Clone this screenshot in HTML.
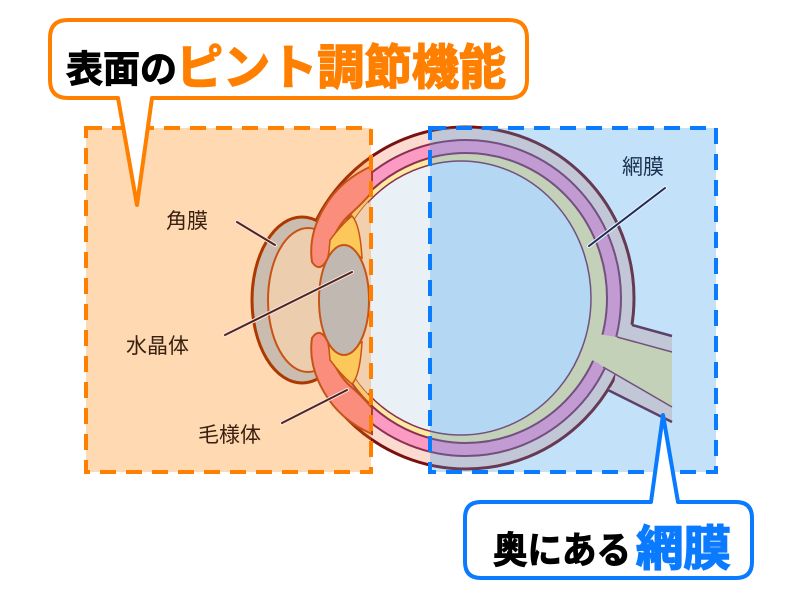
<!DOCTYPE html>
<html><head><meta charset="utf-8"><style>
html,body{margin:0;padding:0;background:#fff;}
svg{display:block;}
text{font-family:"Liberation Sans","Noto Sans CJK JP",sans-serif;}
</style></head><body>
<svg width="800" height="600" viewBox="0 0 800 600" xmlns="http://www.w3.org/2000/svg">
<defs>
<clipPath id="inner"><ellipse cx="461" cy="298" rx="130" ry="137"/></clipPath>
</defs>
<!-- eye layers -->
<ellipse cx="466" cy="298" rx="168" ry="171" fill="#fcdacf" stroke="#7a1010" stroke-width="3"/>
<ellipse cx="466" cy="298" rx="155" ry="158" fill="#fb9bc4" stroke="#8a3050" stroke-width="2"/>
<ellipse cx="466" cy="298" rx="141" ry="145" fill="#fde9a0" stroke="#8a3050" stroke-width="2"/>
<ellipse cx="461" cy="298" rx="130" ry="137" fill="#e9f1f6" stroke="#8a3050" stroke-width="1.5"/>
<!-- optic nerve sheath -->
<path d="M624,322 L632,325 L672,336 L672,422 L608,390 L614,384 Z" fill="#fcdacf"/>
<path d="M632,325 L672,336 M608,390 L672,422" stroke="#6a1a30" stroke-width="2.5" fill="none"/>
<!-- nerve green -->
<path d="M592,333 L617,337 L672,352 L672,407 L603,367 Q592,357 580,360 Q590,348 590,333 Z" fill="#fde9a0"/>
<path d="M617,337 L672,352 M603,367 L672,407" stroke="#8a3050" stroke-width="1.5" fill="none"/>
<!-- anterior chamber region -->
<rect x="300" y="150" width="68" height="300" fill="#eef2f8" clip-path="url(#inner)"/>
<!-- cornea -->
<ellipse cx="302" cy="300" rx="50" ry="83" fill="#b4d6fa" stroke="#8a1a00" stroke-width="3"/>
<ellipse cx="308" cy="300" rx="40" ry="72" fill="#e4eef8" stroke="#b04020" stroke-width="2"/>
<!-- ciliary / iris -->
<path d="M372,166 Q340,180 324,208 Q308,235 312,262 Q320,274 328,258 Q332,232 348,216 Q362,204 372,192 Z" fill="#f992b3" stroke="#b04020" stroke-width="2"/>
<path d="M372,434 Q340,420 324,392 Q308,365 312,338 Q320,326 328,342 Q332,368 348,384 Q362,396 372,408 Z" fill="#f992b3" stroke="#b04020" stroke-width="2"/>
<path d="M330,240 Q342,224 352,216 Q360,224 362,258 Q345,248 328,262 Z" fill="#fde781" stroke="#b04020" stroke-width="1.5"/>
<path d="M330,360 Q342,376 352,384 Q360,376 362,342 Q345,352 328,338 Z" fill="#fde781" stroke="#b04020" stroke-width="1.5"/>
<!-- lens -->
<ellipse cx="344" cy="300" rx="25" ry="55" fill="#a6d1fe" stroke="#b04020" stroke-width="2"/>
<!-- overlays -->
<rect x="86" y="128" width="285" height="344" fill="rgba(255,128,0,0.3)"/>
<rect x="430" y="128" width="286" height="344" fill="rgba(60,156,240,0.3)"/>
<rect x="86" y="128" width="285" height="344" fill="none" stroke="#ff7f00" stroke-width="4" stroke-dasharray="16,10"/>
<rect x="430" y="128" width="286" height="344" fill="none" stroke="#0a7aff" stroke-width="4" stroke-dasharray="16,10"/>
<!-- leader lines -->
<g stroke-linecap="round">
<line x1="237" y1="222" x2="275" y2="245" stroke="#fde" stroke-width="4"/>
<line x1="237" y1="222" x2="275" y2="245" stroke="#4a2a10" stroke-width="2"/>
<line x1="225" y1="335" x2="352" y2="272" stroke="#fde" stroke-width="4"/>
<line x1="225" y1="335" x2="352" y2="272" stroke="#4a2a10" stroke-width="2"/>
<line x1="282" y1="423" x2="347" y2="390" stroke="#fde" stroke-width="4"/>
<line x1="282" y1="423" x2="347" y2="390" stroke="#4a2a10" stroke-width="2"/>
<line x1="665" y1="188" x2="589" y2="246" stroke="#eef" stroke-width="4"/>
<line x1="665" y1="188" x2="589" y2="246" stroke="#1a3050" stroke-width="2"/>
</g>
<!-- labels -->
<text x="166" y="228" font-size="21" fill="#3a2010">角膜</text>
<text x="126" y="353" font-size="21" fill="#3a2010">水晶体</text>
<text x="198" y="442" font-size="21" fill="#3a2010">毛様体</text>
<text x="622" y="174" font-size="21" fill="#1a3050">網膜</text>
<!-- top callout -->
<path d="M68,20 H509 Q527,20 527,38 V80 Q527,98 509,98 H152 L137,205 L118,98 H68 Q50,98 50,80 V38 Q50,20 68,20 Z" fill="#fff" stroke="#ff7f00" stroke-width="4" stroke-linejoin="round"/>
<text x="66" y="82" font-size="37" font-weight="bold" fill="#000" stroke="#000" stroke-width="1">表面の</text>
<text x="176" y="84" font-size="48" font-weight="bold" fill="#ff7f00" stroke="#ff7f00" stroke-width="1.5" textLength="330" lengthAdjust="spacingAndGlyphs">ピント調節機能</text>
<!-- bottom callout -->
<path d="M481,502 H651 L663,415 L678,502 H736 Q752,502 752,518 V562 Q752,578 736,578 H481 Q465,578 465,562 V518 Q465,502 481,502 Z" fill="#fff" stroke="#0a7aff" stroke-width="4" stroke-linejoin="round"/>
<text x="493" y="563" font-size="37" font-weight="bold" fill="#000" stroke="#000" stroke-width="1" textLength="138" lengthAdjust="spacingAndGlyphs">奥にある</text>
<text x="636" y="565" font-size="48" font-weight="bold" fill="#0a7aff" stroke="#0a7aff" stroke-width="1.5" textLength="95" lengthAdjust="spacingAndGlyphs">網膜</text>
</svg>
</body></html>
